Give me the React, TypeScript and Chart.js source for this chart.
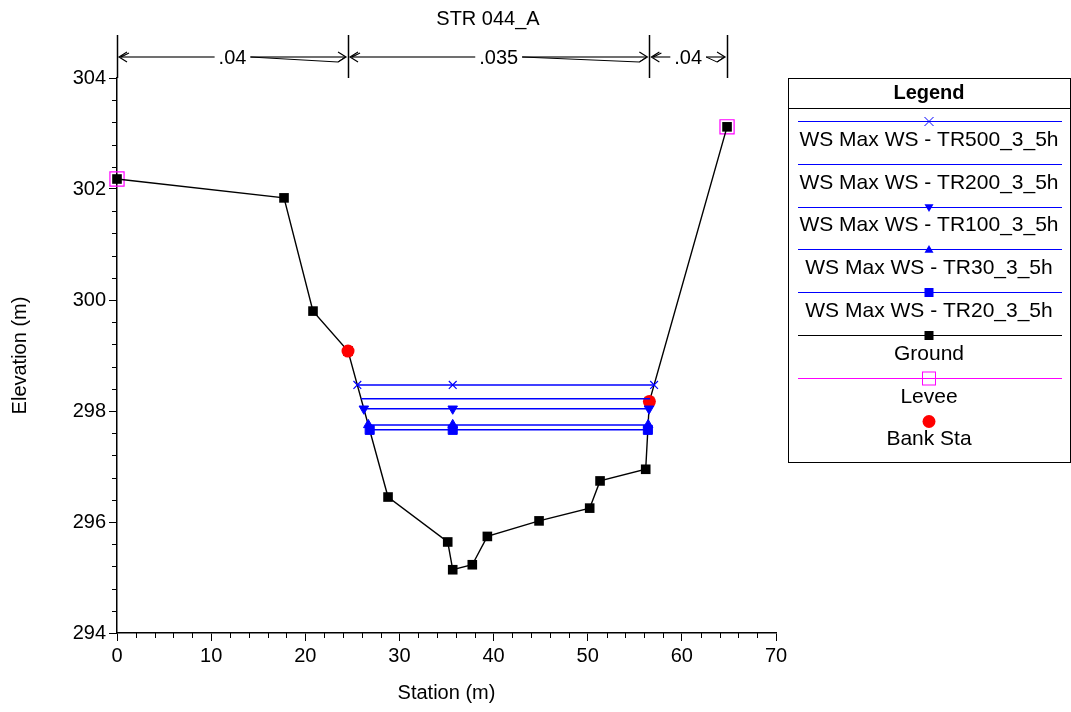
import React, { useEffect, useRef } from 'react';
import { Chart, registerables } from 'chart.js';

Chart.register(...registerables);

// ---------------- data ----------------
const chartTitle = 'STR 044_A';
const xTitle = 'Station (m)';
const yTitle = 'Elevation (m)';

const groundStation = [0, 17.74, 20.82, 24.54, 28.79, 35.13, 35.66, 37.74, 39.34, 44.83, 50.21, 51.31, 56.16, 56.55, 64.8];
const groundElev = [302.18, 301.84, 299.8, 299.08, 296.45, 295.64, 295.14, 295.23, 295.74, 296.02, 296.25, 296.74, 296.95, 298.17, 303.12];

const wsNames = [
  'WS Max WS - TR500_3_5h',
  'WS Max WS - TR200_3_5h',
  'WS Max WS - TR100_3_5h',
  'WS Max WS - TR30_3_5h',
  'WS Max WS - TR20_3_5h',
];
const wsElev = [298.47, 298.22, 298.04, 297.75, 297.66];
const wsLeftStation = [25.53, 25.93, 26.22, 26.69, 26.84];
const wsMidStation = [35.66, 35.66, 35.66, 35.66, 35.66];
const wsRightStation = [57.05, 56.63, 56.51, 56.42, 56.39];
const wsMarkers = ['crossRot', 'none', 'triangleDown', 'triangle', 'rect'];

const leveeStation = [0, 64.8];
const leveeElev = [302.18, 303.12];

const bankStation = [24.54, 56.55];
const bankElev = [299.08, 298.17];

const nStations = [0, 24.54, 56.55, 64.8];
const nValues = ['.04', '.035', '.04'];

const xMin = 0, xMax = 70, xStep = 2, xLabelEvery = 10;
const yMin = 294, yMax = 304, yStep = 0.4, yLabelEvery = 2;

// ---------------- styling ----------------
const FONT = '"Liberation Sans", Arial, Helvetica, sans-serif';
const BLUE = '#0000ff';
const MAGENTA = '#ff00ff';
const RED = '#ff0000';

const isMult = (v: number, m: number) => Math.abs(v / m - Math.round(v / m)) < 1e-6;

function drawMarker(ctx: CanvasRenderingContext2D, style: string, x: number, y: number, r: number, color: string, filled: boolean) {
  ctx.save();
  ctx.strokeStyle = color;
  ctx.fillStyle = color;
  ctx.lineWidth = 1;
  ctx.beginPath();
  switch (style) {
    case 'rect':
      if (filled) ctx.fillRect(x - r, y - r, 2 * r, 2 * r);
      else ctx.strokeRect(x - r + 0.5, y - r + 0.5, 2 * r - 1, 2 * r - 1);
      break;
    case 'circle':
      ctx.arc(x, y, r, 0, Math.PI * 2);
      ctx.fill();
      break;
    case 'triangle':
      ctx.moveTo(x, y - r);
      ctx.lineTo(x + r, y + r * 0.7);
      ctx.lineTo(x - r, y + r * 0.7);
      ctx.closePath();
      ctx.fill();
      break;
    case 'triangleDown':
      ctx.moveTo(x, y + r);
      ctx.lineTo(x + r, y - r * 0.7);
      ctx.lineTo(x - r, y - r * 0.7);
      ctx.closePath();
      ctx.fill();
      break;
    case 'crossRot':
      ctx.moveTo(x - r, y - r);
      ctx.lineTo(x + r, y + r);
      ctx.moveTo(x + r, y - r);
      ctx.lineTo(x - r, y + r);
      ctx.stroke();
      break;
  }
  ctx.restore();
}

const overlayPlugin = {
  id: 'overlay',
  afterDraw(chart: any) {
    const ctx: CanvasRenderingContext2D = chart.ctx;
    const xs = chart.scales.x;
    const ys = chart.scales.y;
    const area = chart.chartArea;
    ctx.save();

    // minor ticks
    ctx.strokeStyle = '#000';
    ctx.lineWidth = 1;
    ctx.beginPath();
    xs.ticks.forEach((t: any) => {
      if (!isMult(t.value, xLabelEvery)) {
        const px = Math.round(xs.getPixelForValue(t.value)) + 0.5;
        ctx.moveTo(px, area.bottom);
        ctx.lineTo(px, area.bottom + 5);
      }
    });
    ys.ticks.forEach((t: any) => {
      if (!isMult(t.value - yMin, yLabelEvery)) {
        const py = Math.round(ys.getPixelForValue(t.value)) + 0.5;
        ctx.moveTo(area.left - 5, py);
        ctx.lineTo(area.left, py);
      }
    });
    ctx.stroke();

    // title
    ctx.fillStyle = '#000';
    ctx.font = `20px ${FONT}`;
    ctx.textAlign = 'center';
    ctx.textBaseline = 'middle';
    ctx.fillText(chartTitle, 488, 19);

    // Manning's n annotations
    const topY = 35;
    const arrowY = 57;
    ctx.lineWidth = 1.5;
    ctx.strokeStyle = '#000';
    nStations.forEach((s) => {
      const px = Math.round(xs.getPixelForValue(s)) + 0.5;
      ctx.beginPath();
      ctx.moveTo(px, topY);
      ctx.lineTo(px, area.top);
      ctx.stroke();
    });
    ctx.font = `20px ${FONT}`;
    for (let i = 0; i < nValues.length; i++) {
      const x1 = xs.getPixelForValue(nStations[i]);
      const x2 = xs.getPixelForValue(nStations[i + 1]);
      const mid = (x1 + x2) / 2;
      const w = ctx.measureText(nValues[i]).width;
      ctx.fillStyle = '#000';
      ctx.fillText(nValues[i], mid, arrowY + 1);
      // gray lines
      ctx.strokeStyle = '#707070';
      ctx.lineWidth = 2;
      ctx.beginPath();
      ctx.moveTo(x1 + 3, arrowY);
      ctx.lineTo(mid - w / 2 - 4, arrowY);
      ctx.moveTo(mid + w / 2 + 4, arrowY);
      ctx.lineTo(x2 - 3, arrowY);
      ctx.stroke();
      // slanted dark line on right part
      ctx.strokeStyle = '#000';
      ctx.lineWidth = 1;
      ctx.beginPath();
      ctx.moveTo(mid + w / 2 + 4, arrowY);
      ctx.lineTo(x2 - 10, arrowY + 5);
      ctx.lineTo(x2 - 3, arrowY);
      ctx.stroke();
      // arrowheads
      ctx.lineWidth = 1.2;
      ctx.beginPath();
      ctx.moveTo(x1 + 10, arrowY - 5);
      ctx.lineTo(x1 + 2, arrowY);
      ctx.lineTo(x1 + 10, arrowY + 5);
      ctx.moveTo(x1 + 12, arrowY - 4);
      ctx.lineTo(x1 + 4, arrowY);
      ctx.moveTo(x2 - 10, arrowY - 5);
      ctx.lineTo(x2 - 2, arrowY);
      ctx.lineTo(x2 - 10, arrowY + 5);
      ctx.stroke();
    }

    // legend box
    const lx0 = 788.5, ly0 = 78.5, lx1 = 1070.5, ly1 = 462.5;
    const cx = 929;
    ctx.strokeStyle = '#000';
    ctx.lineWidth = 1;
    ctx.strokeRect(lx0, ly0, lx1 - lx0, ly1 - ly0);
    ctx.beginPath();
    ctx.moveTo(lx0, 108.5);
    ctx.lineTo(lx1, 108.5);
    ctx.stroke();
    ctx.fillStyle = '#000';
    ctx.font = `bold 20px ${FONT}`;
    ctx.fillText('Legend', cx, 93);

    type Entry = { name: string; color: string; marker: string; r: number; filled: boolean; line: boolean };
    const entries: Entry[] = [];
    wsNames.forEach((n, i) => entries.push({ name: n, color: BLUE, marker: wsMarkers[i], r: 4.5, filled: true, line: true }));
    entries.push({ name: 'Ground', color: '#000', marker: 'rect', r: 4.5, filled: true, line: true });
    entries.push({ name: 'Levee', color: MAGENTA, marker: 'rect', r: 7, filled: false, line: true });
    entries.push({ name: 'Bank Sta', color: RED, marker: 'circle', r: 6.5, filled: true, line: false });

    const step = 42.8;
    entries.forEach((e, i) => {
      const ly = 121 + i * step;
      if (e.line) {
        ctx.strokeStyle = e.color;
        ctx.lineWidth = 1.2;
        ctx.beginPath();
        ctx.moveTo(798, Math.round(ly) + 0.5);
        ctx.lineTo(1062, Math.round(ly) + 0.5);
        ctx.stroke();
      }
      if (e.marker !== 'none') drawMarker(ctx, e.marker, cx, Math.round(ly) + 0.5, e.r, e.color, e.filled);
      ctx.fillStyle = '#000';
      ctx.font = `21px ${FONT}`;
      ctx.fillText(e.name, cx, ly + 19);
    });

    ctx.restore();
  },
};

export default function App() {
  const ref = useRef<HTMLCanvasElement | null>(null);

  useEffect(() => {
    if (!ref.current) return;
    const toPts = (xs: number[], ys: number[]) => xs.map((x, i) => ({ x, y: ys[i] }));

    const wsDatasets = wsNames.map((name, i) => {
      const m = wsMarkers[i];
      return {
        label: name,
        data: [
          { x: wsLeftStation[i], y: wsElev[i] },
          { x: wsMidStation[i], y: wsElev[i] },
          { x: wsRightStation[i], y: wsElev[i] },
        ],
        showLine: true,
        clip: false,
        borderColor: BLUE,
        backgroundColor: BLUE,
        borderWidth: 1.5,
        pointStyle: m === 'triangleDown' ? 'triangle' : m === 'none' ? false : m,
        rotation: m === 'triangleDown' ? 180 : 0,
        pointRadius: m === 'none' ? 0 : m === 'rect' ? 6.4 : 5.5,
        pointBorderWidth: m === 'crossRot' ? 1.2 : 1,
        pointBorderColor: BLUE,
        pointBackgroundColor: BLUE,
      };
    });

    const chart = new Chart(ref.current, {
      type: 'scatter',
      data: {
        datasets: [
          ...wsDatasets,
          {
            label: 'Bank Sta',
            data: toPts(bankStation, bankElev),
            showLine: false,
            clip: false,
            pointStyle: 'circle',
            pointRadius: 6.5,
            pointBackgroundColor: RED,
            pointBorderColor: RED,
            pointBorderWidth: 0,
          },
          {
            label: 'Ground',
            data: toPts(groundStation, groundElev),
            showLine: true,
            clip: false,
            borderColor: '#000',
            borderWidth: 1.4,
            pointStyle: 'rect',
            pointRadius: 6.8,
            pointBackgroundColor: '#000',
            pointBorderColor: '#000',
            pointBorderWidth: 0,
          },
          {
            label: 'Levee',
            data: toPts(leveeStation, leveeElev),
            showLine: false,
            clip: false,
            pointStyle: 'rect',
            pointRadius: 10,
            pointBackgroundColor: 'rgba(0,0,0,0)',
            pointBorderColor: MAGENTA,
            pointBorderWidth: 1.2,
          },
        ] as any,
      },
      options: {
        animation: false,
        responsive: false,
        maintainAspectRatio: false,
        events: [],
        layout: { padding: { left: 0, top: 78, right: 295, bottom: 0 } },
        plugins: {
          legend: { display: false },
          tooltip: { enabled: false },
          title: { display: false },
        },
        scales: {
          x: {
            type: 'linear',
            min: xMin,
            max: xMax,
            afterFit: (s: any) => {
              s.height = 79;
            },
            ticks: {
              stepSize: xStep,
              autoSkip: false,
              maxRotation: 0,
              color: '#000',
              padding: 3,
              font: { family: FONT, size: 20 },
              callback: (v: any) => (isMult(Number(v), xLabelEvery) ? String(Math.round(Number(v))) : ''),
            },
            grid: {
              drawOnChartArea: false,
              drawTicks: true,
              tickLength: 8,
              tickColor: (c: any) => (c.tick && isMult(c.tick.value, xLabelEvery) ? '#000' : 'rgba(0,0,0,0)'),
            },
            border: { color: '#000', width: 1.5 },
            title: {
              display: true,
              text: xTitle,
              color: '#000',
              font: { family: FONT, size: 20 },
              padding: { top: 0, bottom: 7 },
            },
          },
          y: {
            type: 'linear',
            min: yMin,
            max: yMax,
            afterFit: (s: any) => {
              s.width = 117;
            },
            ticks: {
              stepSize: yStep,
              autoSkip: false,
              color: '#000',
              padding: 3,
              font: { family: FONT, size: 20 },
              callback: (v: any) => (isMult(Number(v) - yMin, yLabelEvery) ? String(Math.round(Number(v))) : ''),
            },
            grid: {
              drawOnChartArea: false,
              drawTicks: true,
              tickLength: 8,
              tickColor: (c: any) => (c.tick && isMult(c.tick.value - yMin, yLabelEvery) ? '#000' : 'rgba(0,0,0,0)'),
            },
            border: { color: '#000', width: 1.5 },
            title: {
              display: true,
              text: yTitle,
              color: '#000',
              font: { family: FONT, size: 20 },
              padding: { top: 8, bottom: 0 },
            },
          },
        },
      } as any,
      plugins: [overlayPlugin],
    });

    return () => chart.destroy();
  }, []);

  return (
    <div style={{ position: 'fixed', left: 0, top: 0, width: 1071, height: 712, background: '#fff' }}>
      <canvas ref={ref} width={1071} height={712} style={{ width: 1071, height: 712, display: 'block' }} />
    </div>
  );
}
